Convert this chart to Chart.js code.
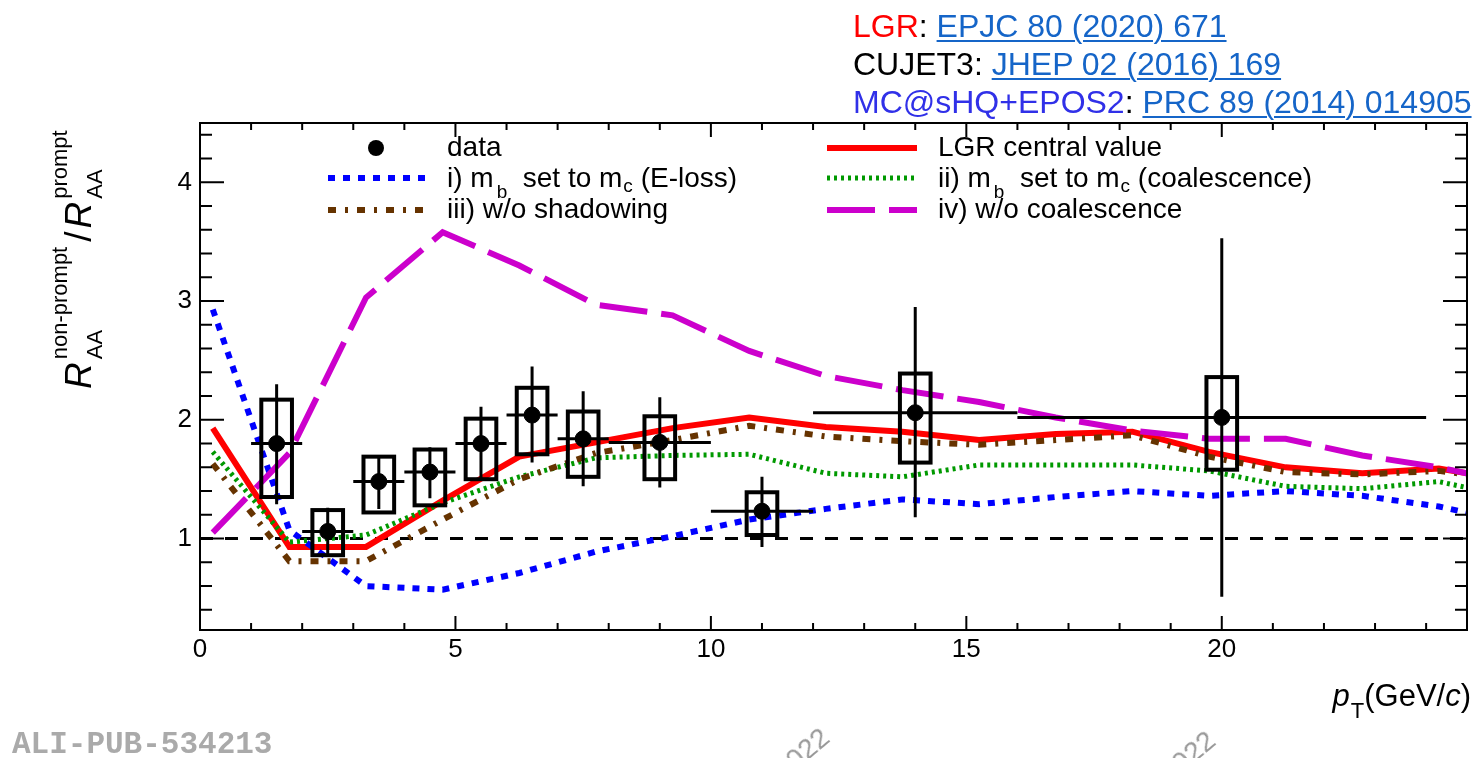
<!DOCTYPE html>
<html>
<head>
<meta charset="utf-8">
<script src="https://cdn.jsdelivr.net/npm/chart.js@4.4.1/dist/chart.umd.min.js"></script>
<style>
  html, body { margin: 0; padding: 0; background: #fff; }
  body { width: 1476px; height: 758px; position: relative; overflow: hidden; font-family: "Liberation Sans", Arial, sans-serif; }
  #chart { position: absolute; left: 0; top: 0; }
  .refs { position: absolute; left: 853px; top: 7px; font-size: 32px; line-height: 38px; white-space: nowrap; color: #000; }
  .lnk { color: #1565c8; text-decoration: underline; text-decoration-thickness: 2px; text-underline-offset: 3px; }
  .pub { position: absolute; left: 12px; top: 729px; font: bold 31px/31px "Liberation Mono", monospace; color: #aaa; }
  .wm { position: absolute; font-size: 28px; color: #999; transform: rotate(-40deg); transform-origin: left bottom; }
</style>
</head>
<body>
<canvas id="chart" width="1476" height="758"></canvas>
<div class="refs">
  <div><span style="color:#ff0000">LGR</span>: <span class="lnk">EPJC 80 (2020) 671</span></div>
  <div>CUJET3: <span class="lnk">JHEP 02 (2016) 169</span></div>
  <div><span style="color:#3030e8">MC@sHQ+EPOS2</span>: <span class="lnk">PRC 89 (2014) 014905</span></div>
</div>
<div class="pub">ALI-PUB-534213</div>
<div class="wm" style="left:788px; top:754px;">2022</div>
<div class="wm" style="left:1174px; top:757px;">2022</div>
<script>
// axis ranges
const X_MIN = 0, X_MAX = 24.8;
const Y_MIN = 0.23, Y_MAX = 4.5;
const xTicks = [0, 5, 10, 15, 20];
const yTicks = [1, 2, 3, 4];

// measured data: bin centres, bin edges, values, stat and syst limits
const dataPt = [1.5, 2.5, 3.5, 4.5, 5.5, 6.5, 7.5, 9, 11, 14, 20];
const dataLo = [1, 2, 3, 4, 5, 6, 7, 8, 10, 12, 16];
const dataHi = [2, 3, 4, 5, 6, 7, 8, 10, 12, 16, 24];
const dataVal = [1.80, 1.06, 1.48, 1.56, 1.80, 2.04, 1.84, 1.81, 1.23, 2.06, 2.02];
const statLo = [1.29, 0.85, 1.25, 1.34, 1.50, 1.64, 1.44, 1.43, 0.93, 1.18, 0.51];
const statHi = [2.30, 1.26, 1.70, 1.77, 2.11, 2.45, 2.24, 2.19, 1.52, 2.95, 3.53];
const systLo = [1.35, 0.86, 1.22, 1.28, 1.50, 1.71, 1.52, 1.50, 1.03, 1.64, 1.58];
const systHi = [2.17, 1.24, 1.69, 1.75, 2.01, 2.27, 2.07, 2.03, 1.39, 2.39, 2.36];
const systHalfWidth = 0.3;

// model curves (LGR)
const modelPt = [0.25, 1.75, 3.25, 4.75, 6.25, 7.75, 9.25, 10.75, 12.25, 13.75, 15.25, 16.75, 18.25, 19.75, 21.25, 22.75, 24.25, 25.75];
const lgrCentral = [1.93, 0.93, 0.93, 1.32, 1.69, 1.81, 1.93, 2.02, 1.94, 1.90, 1.83, 1.88, 1.90, 1.73, 1.60, 1.55, 1.59, 1.48];
const mbEloss    = [2.93, 1.07, 0.60, 0.57, 0.71, 0.89, 1.02, 1.16, 1.25, 1.33, 1.29, 1.35, 1.40, 1.36, 1.40, 1.36, 1.27, 1.13];
const mbCoal     = [1.73, 0.97, 1.03, 1.30, 1.52, 1.68, 1.70, 1.71, 1.55, 1.52, 1.62, 1.62, 1.62, 1.57, 1.44, 1.42, 1.48, 1.34];
const noShadow   = [1.63, 0.81, 0.81, 1.16, 1.50, 1.72, 1.83, 1.95, 1.86, 1.82, 1.79, 1.83, 1.87, 1.69, 1.56, 1.54, 1.57, 1.49];
const noCoal     = [1.05, 1.72, 3.03, 3.58, 3.30, 2.97, 2.88, 2.58, 2.37, 2.25, 2.15, 2.02, 1.91, 1.84, 1.84, 1.70, 1.60, 1.46];

const FONT = '"Liberation Sans", Arial, sans-serif';
const pts = (xs, ys) => xs.map((x, i) => ({ x: x, y: ys[i] }));

function curve(label, ys, color, width, dash) {
  return {
    label: label, data: pts(modelPt, ys), showLine: true, pointRadius: 0,
    borderColor: color, borderWidth: width, borderDash: dash, borderCapStyle: 'butt',
    borderJoinStyle: 'miter', fill: false, clip: 0, order: 2
  };
}

const datasets = [
  { label: 'unity', data: [{ x: X_MIN, y: 1 }, { x: X_MAX, y: 1 }], showLine: true, pointRadius: 0,
    borderColor: '#000', borderWidth: 3, borderDash: [13, 12], clip: 0, order: 3 },
  curve('iv) w/o coalescence', noCoal, '#cc00cc', 6, [48, 14]),
  curve('iii) w/o shadowing', noShadow, '#663300', 6, [8, 9, 3, 9]),
  curve('ii) mb set to mc (coalescence)', mbCoal, '#009900', 5, [3, 4]),
  curve('i) mb set to mc (E-loss)', mbEloss, '#0000ff', 6, [7, 8]),
  curve('LGR central value', lgrCentral, '#ff0000', 6, []),
  { label: 'data', data: pts(dataPt, dataVal), showLine: false, pointRadius: 8,
    pointBackgroundColor: '#000', pointBorderColor: '#000', order: 1 }
];

// error bars and systematic boxes for the data
const errorPlugin = {
  id: 'errors',
  afterDatasetsDraw(chart) {
    const ctx = chart.ctx, xs = chart.scales.x, ys = chart.scales.y;
    ctx.save();
    ctx.strokeStyle = '#000';
    dataPt.forEach((x, i) => {
      const px = xs.getPixelForValue(x), py = ys.getPixelForValue(dataVal[i]);
      ctx.lineWidth = 3;
      ctx.beginPath();
      ctx.moveTo(xs.getPixelForValue(dataLo[i]), py);
      ctx.lineTo(xs.getPixelForValue(dataHi[i]), py);
      ctx.moveTo(px, ys.getPixelForValue(statLo[i]));
      ctx.lineTo(px, ys.getPixelForValue(statHi[i]));
      ctx.stroke();
      const bx1 = xs.getPixelForValue(x - systHalfWidth), bx2 = xs.getPixelForValue(x + systHalfWidth);
      const by1 = ys.getPixelForValue(systHi[i]), by2 = ys.getPixelForValue(systLo[i]);
      ctx.lineWidth = 4;
      ctx.strokeRect(bx1, by1, bx2 - bx1, by2 - by1);
    });
    ctx.restore();
  }
};

// draw text made of pieces with sub/superscripts
function richText(ctx, parts, x, y, size) {
  let cx = x;
  parts.forEach(p => {
    const s = p.size || size;
    ctx.font = (p.italic ? 'italic ' : '') + s + 'px ' + FONT;
    ctx.fillText(p.t, cx + (p.dx || 0), y + (p.dy || 0));
    cx += ctx.measureText(p.t).width + (p.dx || 0);
  });
  return cx;
}

// ROOT style frame, inward ticks, legend and axis titles
const framePlugin = {
  id: 'frame',
  afterDraw(chart) {
    const ctx = chart.ctx, a = chart.chartArea, xs = chart.scales.x, ys = chart.scales.y;
    ctx.save();
    ctx.strokeStyle = '#000';
    ctx.lineWidth = 2;
    ctx.setLineDash([]);
    ctx.strokeRect(a.left, a.top, a.right - a.left, a.bottom - a.top);
    ctx.beginPath();
    for (let v = 1; v < X_MAX; v += 1) {
      const px = xs.getPixelForValue(v), len = v % 5 === 0 ? 14 : 7;
      ctx.moveTo(px, a.bottom); ctx.lineTo(px, a.bottom - len);
      ctx.moveTo(px, a.top); ctx.lineTo(px, a.top + len);
    }
    for (let k = 2; k * 0.2 < Y_MAX; k++) {
      const v = k * 0.2, py = ys.getPixelForValue(v), len = k % 5 === 0 ? 24 : 12;
      ctx.moveTo(a.left, py); ctx.lineTo(a.left + len, py);
      ctx.moveTo(a.right, py); ctx.lineTo(a.right - len, py);
    }
    ctx.stroke();

    // legend
    const ds = chart.data.datasets;
    const find = l => ds.find(d => d.label === l);
    const sample = (d, x1, x2, y) => {
      ctx.save();
      ctx.strokeStyle = d.borderColor; ctx.lineWidth = d.borderWidth;
      ctx.setLineDash(d.borderDash || []); ctx.lineCap = 'butt';
      ctx.beginPath(); ctx.moveTo(x1, y); ctx.lineTo(x2, y); ctx.stroke();
      ctx.restore();
    };
    ctx.fillStyle = '#000';
    ctx.textBaseline = 'alphabetic';
    ctx.textAlign = 'left';
    ctx.beginPath(); ctx.arc(376, 148, 8, 0, Math.PI * 2); ctx.fill();
    richText(ctx, [{ t: 'data' }], 447, 156, 28);
    sample(find('i) mb set to mc (E-loss)'), 328, 426, 178);
    richText(ctx, [{ t: 'i) m' }, { t: 'b', size: 19, dy: 11, dx: 3 }, { t: '  set to m' }, { t: 'c', size: 19, dy: 5, dx: 1 }, { t: ' (E-loss)' }], 447, 187, 28);
    sample(find('iii) w/o shadowing'), 328, 426, 210);
    richText(ctx, [{ t: 'iii) w/o shadowing' }], 447, 218, 28);
    sample(find('LGR central value'), 827, 917, 148);
    richText(ctx, [{ t: 'LGR central value' }], 938, 156, 28);
    sample(find('ii) mb set to mc (coalescence)'), 827, 917, 178);
    richText(ctx, [{ t: 'ii) m' }, { t: 'b', size: 19, dy: 11, dx: 3 }, { t: '  set to m' }, { t: 'c', size: 19, dy: 5, dx: 1 }, { t: ' (coalescence)' }], 938, 187, 28);
    sample(find('iv) w/o coalescence'), 827, 917, 210);
    richText(ctx, [{ t: 'iv) w/o coalescence' }], 938, 218, 28);

    // x title
    const parts = [{ t: 'p', italic: true }, { t: 'T', size: 22, dy: 12, dx: 1 }, { t: '(GeV/' }, { t: 'c', italic: true }, { t: ')' }];
    let w = 0;
    parts.forEach(p => { ctx.font = (p.italic ? 'italic ' : '') + (p.size || 31) + 'px ' + FONT; w += ctx.measureText(p.t).width + (p.dx || 0); });
    richText(ctx, parts, 1471 - w, 706, 31);

    // y title, rotated
    ctx.save();
    ctx.translate(91, 389);
    ctx.rotate(-Math.PI / 2);
    ctx.font = 'italic 37px ' + FONT;
    let t = 0;
    ctx.fillText('R', t, 0);
    t += ctx.measureText('R').width + 3;
    ctx.font = '22px ' + FONT;
    ctx.fillText('AA', t, 11);
    ctx.fillText('non-prompt', t, -24);
    t += ctx.measureText('non-prompt').width + 5;
    ctx.font = '37px ' + FONT;
    ctx.fillText('/', t, 0);
    t += ctx.measureText('/').width + 3;
    ctx.font = 'italic 37px ' + FONT;
    ctx.fillText('R', t, 0);
    t += ctx.measureText('R').width + 3;
    ctx.font = '22px ' + FONT;
    ctx.fillText('AA', t, 11);
    ctx.fillText('prompt', t, -24);
    ctx.restore();

    ctx.restore();
  }
};

new Chart(document.getElementById('chart'), {
  type: 'scatter',
  data: { datasets: datasets },
  options: {
    responsive: false,
    animation: false,
    devicePixelRatio: 1,
    layout: { padding: { left: 0, top: 123, right: 4, bottom: 0 } },
    plugins: { legend: { display: false }, tooltip: { enabled: false } },
    scales: {
      x: {
        type: 'linear', min: X_MIN, max: X_MAX,
        grid: { display: false, drawTicks: false }, border: { display: false },
        ticks: { color: '#000', font: { family: FONT, size: 26 }, padding: 4, maxRotation: 0 },
        afterBuildTicks: s => { s.ticks = xTicks.map(v => ({ value: v })); },
        afterFit: s => { s.height = 128; }
      },
      y: {
        type: 'linear', min: Y_MIN, max: Y_MAX,
        grid: { display: false, drawTicks: false }, border: { display: false },
        ticks: { color: '#000', font: { family: FONT, size: 26 }, padding: 8 },
        afterBuildTicks: s => { s.ticks = yTicks.map(v => ({ value: v })); },
        afterFit: s => { s.width = 200; }
      }
    }
  },
  plugins: [errorPlugin, framePlugin]
});
</script>
</body>
</html>
